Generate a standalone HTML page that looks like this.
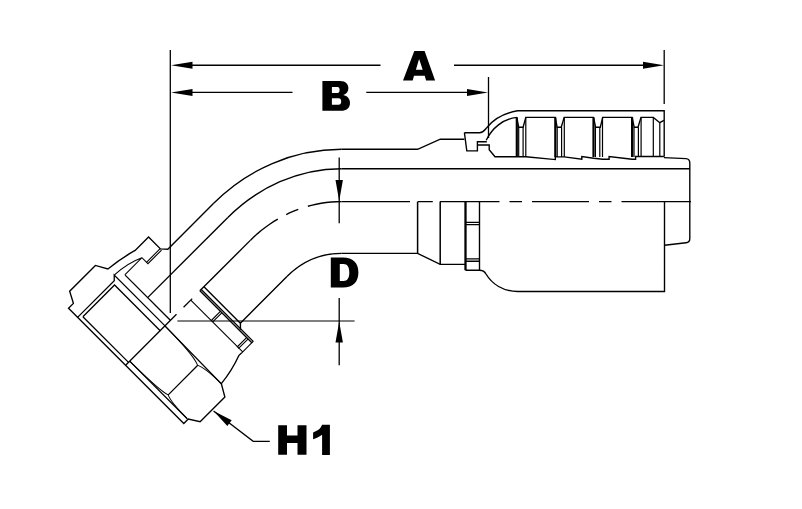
<!DOCTYPE html><html><head><meta charset="utf-8"><style>html,body{margin:0;padding:0;background:#fff;width:802px;height:509px;overflow:hidden}svg{display:block}</style></head><body><svg width="802" height="509" viewBox="0 0 802 509"><rect width="802" height="509" fill="#fff"/><g fill="none" stroke="#000" stroke-linecap="butt" stroke-linejoin="miter"><path d="M170.3,50V313" stroke-width="1.3"/><path d="M664.2,50V104" stroke-width="1.3"/><path d="M488.5,77V138" stroke-width="1.3"/><path d="M190,65.3H380.5M454,65.3H645" stroke-width="1.4"/><path d="M190,92.4H292.5M366.3,92.4H469" stroke-width="1.4"/><path d="M339.2,157.5V223.3M339.2,298V365.2" stroke-width="1.3"/><path d="M177.4,321H354.6" stroke-width="1.2"/><path d="M213.6,411.1L253.2,441.3H269.8" stroke-width="1.3"/><path d="M341.4,149.3H417.6L440.3,139.2H464.4" stroke-width="1.38"/><path d="M341.4,168.7H689.8" stroke-width="1.38"/><path d="M341.4,253.4H417.6L440.2,264.4H465.5" stroke-width="1.38"/><path d="M417.6,201.5V253.4M440.2,201.5V264.4" stroke-width="1.5"/><path d="M465.5,201.2V270.2" stroke-width="2.3"/><path d="M479.5,201.2V270.2H465.5M465.5,222.4H479.5M465.5,224.6H479.5M465.5,258.9H479.5M465.5,261.2H479.5" stroke-width="1.38"/><path d="M479.5,270.2Q484,270.2 486,274C492,284 503,291.5 517.8,291.5H664.5V201.2" stroke-width="1.38"/><path d="M341.4,201.6H410M418,201.6H432.8M440,201.6H499.5M509.5,201.6H522M532,201.6H589M599,201.6H611.5M621.5,201.6H691" stroke-width="1.38"/><path d="M664,157.6L686,158.6Q689.8,159 689.8,163V238.5Q689.8,242.5 686,242.8L664.5,245.2" stroke-width="1.38"/><path d="M464.4,132.7H479.7C483.5,132.6 485,129.5 487,127.5C493,120 504,113.2 517.6,110.8H664.2V156.8" stroke-width="1.38"/><path d="M486.2,140.3C492,128 503,119 516.8,117.4" stroke-width="1.38"/><path d="M464.4,132.7L466.8,150.9H477.4V141.7H486.8M477.4,145H489.2V149.8L495,156.8H525.9L555.3,159.6V156.9H564.2L581.8,159.3V156.5L593.8,158.2L602.7,159.2H609.1V156.5L632.1,159.2H635.6V156.5H663.9" stroke-width="1.38"/><path d="M516.8,117.4L518.7,127.2H523.1L525.8,117.4H555.3L557.1,127.2H561.2L564.2,117.4H593.5L595.6,127.2H600.3L602.7,117.4H632.1L634.2,127.2H638L641,117.4H653.3L659.8,122.7L663.9,120.3" stroke-width="1.38"/><path d="M516.8,117.4V157" stroke-width="2.2"/><path d="M518.7,127.2V157M523.1,127.2V157M525.8,117.4V157" stroke-width="1.2"/><path d="M555.3,117.4V157" stroke-width="2.2"/><path d="M557.2,127.2V157M561.6,127.2V157M564.3,117.4V157" stroke-width="1.2"/><path d="M593.5,117.4V157" stroke-width="2.2"/><path d="M595.4,127.2V157M599.8,127.2V157M602.5,117.4V157" stroke-width="1.2"/><path d="M632.1,117.4V157" stroke-width="2.2"/><path d="M634,127.2V157M638.4,127.2V157M641.1,117.4V157" stroke-width="1.2"/><path d="M653.3,117.4V157M659.8,122.7V157" stroke-width="1.2"/><path d="M341.4,149.3C293.36,149.3 247.67,169.33 213.7,203.3" stroke-width="1.38"/><path d="M341.4,168.7C298.58,168.7 258.11,187.16 227.84,217.44" stroke-width="1.38"/><path d="M341.4,253.4C320.9,253.4 301.45,262.06 286.95,276.55" stroke-width="1.38"/><path d="M341.4,201.6L336.28,201.71L331.2,202.03L326.15,202.55L321.14,203.29L316.18,204.22L311.26,205.35L307.86,206.26M298.29,209.38L293.6,211.21L288.99,213.23L286.26,214.53M277.82,219.06L273.51,221.69L269.29,224.49L265.17,227.45L261.16,230.57L257.26,233.85L253.48,237.28L250.54,240.14" stroke-width="1.38"/><g transform="rotate(-45 341.4 331)"><path d="M341.4,150.4H276.5L271.5,145V128.2H252.5Q238,124 220.2,122L213.8,110.7H177.4L171.4,122H164.5V285H170.9L177.3,295.3H212.3L219.3,283.3Q235.5,281.8 251.8,275.8L255.5,276" stroke-width="1.38"/><path d="M341.4,170.4H228" stroke-width="1.38"/><path d="M341.4,202.5H269.7" stroke-width="1.38"/><path d="M341.4,254H275.5V202.5M275.5,254.1L270.9,258.7" stroke-width="1.38"/><path d="M271.5,144.6H252.2M271.5,146.6H252.2V138.1H228M252.2,138.1Q238,131.5 220.3,130.8" stroke-width="1.1"/><path d="M164.5,134.8H216.4L220.3,130.8V203M168.7,138.1H213.5V203M168.7,138.1V203" stroke-width="1.3"/><path d="M228,138.6V202.5" stroke-width="1.3"/><path d="M165,202.6H236.6M173.8,253.7H215.6M220.2,202.6L219.2,283.3M170.4,202.6V284" stroke-width="1.3"/><path d="M220.2,202.6Q219.9,244 215.5,253.4Q219,261 219.2,283.3M170.4,202.6Q170.6,244 173.7,253.7Q170.4,261 170.3,284" stroke-width="1.0"/><path d="M246.6,202.6H258.8" stroke-width="1.3"/><path d="M269.8,202.5V276.3M271.7,202.5V276.3" stroke-width="1.35"/><path d="M256.8,202.6V276M256.5,231.6H270M256.5,233.6H270M256,268.6H270M256,270.6H270M255.5,276H271.6" stroke-width="1.1"/></g></g><path fill="#000" d="M171,65.3L192.5,61.8L192.5,68.8ZM664,65.3L643,61.8L643,68.8ZM171,92.4L192.5,88.9L192.5,95.9ZM488,92.4L467,88.9L467,95.9ZM339.2,200.9L335.5,180L342.9,180ZM339.2,321.5L335.5,342.6L342.9,342.6ZM213.6,411.1 L231.69,420.37 L227.32,426.09Z"/><path fill="#000" d="M414.3,50.9H424.6L435.1,80.6H426.1L424.7,75.8H414L412.7,80.6H403ZM419.1,58.9L415.9,69.7H422.7ZM322.4,81H340C346,81 348.4,84.5 348.4,88C348.4,91.5 346.5,94 343.2,95.1C347.5,96 350,99 350,103C350,108 346.5,110.8 341,110.8H322.4ZM331.9,87.1V92.9H337.5C339,92.9 339.6,91.8 339.6,90C339.6,88.2 339,87.1 337.5,87.1ZM331.9,98.3V104.8H338.5C340.3,104.8 341.2,103.5 341.2,101.5C341.2,99.5 340.3,98.3 338.5,98.3ZM330.8,257.6H343C353,257.6 358.4,263 358.4,272.6C358.4,282 353,287.6 343,287.6H330.8ZM339.8,264V281H343.5C347.5,281 349.3,278 349.3,272.5C349.3,267 347.5,264 343.5,264ZM278.2,425.2H287V435.6H297.5V425.2H306.5V454.7H297.5V443.1H287V454.7H278.2ZM322,424.8H329.9V454.9H322.1V434.8C319,437 316,438.5 313.1,439.2V432.4C317.5,431 321,428.5 322,424.8Z"/></svg></body></html>
